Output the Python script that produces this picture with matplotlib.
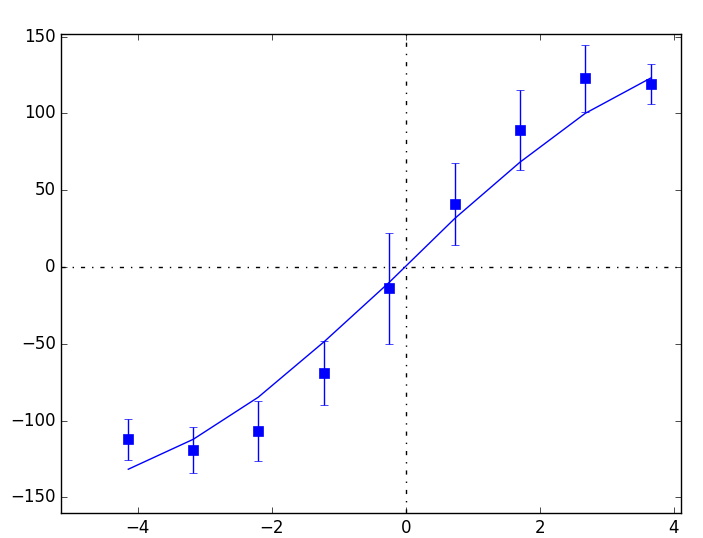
import matplotlib
matplotlib.use("Agg")
import matplotlib.pyplot as plt

plt.style.use('classic')

x = [-4.14, -3.17, -2.20, -1.215, -0.245, 0.736, 1.706, 2.68, 3.666]
y_obs = [-112.2, -119.1, -106.8, -69.0, -13.9, 41.0, 89.2, 122.9, 119.1]
y_err = [13.4, 14.9, 19.5, 21.0, 36.3, 26.7, 26.3, 21.7, 13.3]
y_fit = [-131.7, -112.2, -84.8, -48.6, -10.0, 31.7, 68.2, 100.0, 123.2]

fig = plt.figure(figsize=(7.03, 5.38), dpi=100)
fig.patch.set_facecolor('white')
ax = fig.add_subplot(111)
fig.subplots_adjust(left=0.0872, right=0.9687, top=0.9377, bottom=0.0459)

ax.axhline(0, color='k', linestyle='-.', linewidth=1)
ax.axvline(0, color='k', linestyle='-.', linewidth=1)
ax.plot(x, y_fit, color='b', linewidth=1)
ax.errorbar(x, y_obs, yerr=y_err, fmt='s', color='b', markersize=6.5,
            markeredgecolor='b', capsize=3, elinewidth=1)

ax.set_xlim(-5.14, 4.11)
ax.set_ylim(-160.4, 152)
ax.set_xticks([-4, -2, 0, 2, 4])
ax.set_yticks([-150, -100, -50, 0, 50, 100, 150])
ax.tick_params(labelsize=12)

fig.savefig('out.png', dpi=100, facecolor='white')
